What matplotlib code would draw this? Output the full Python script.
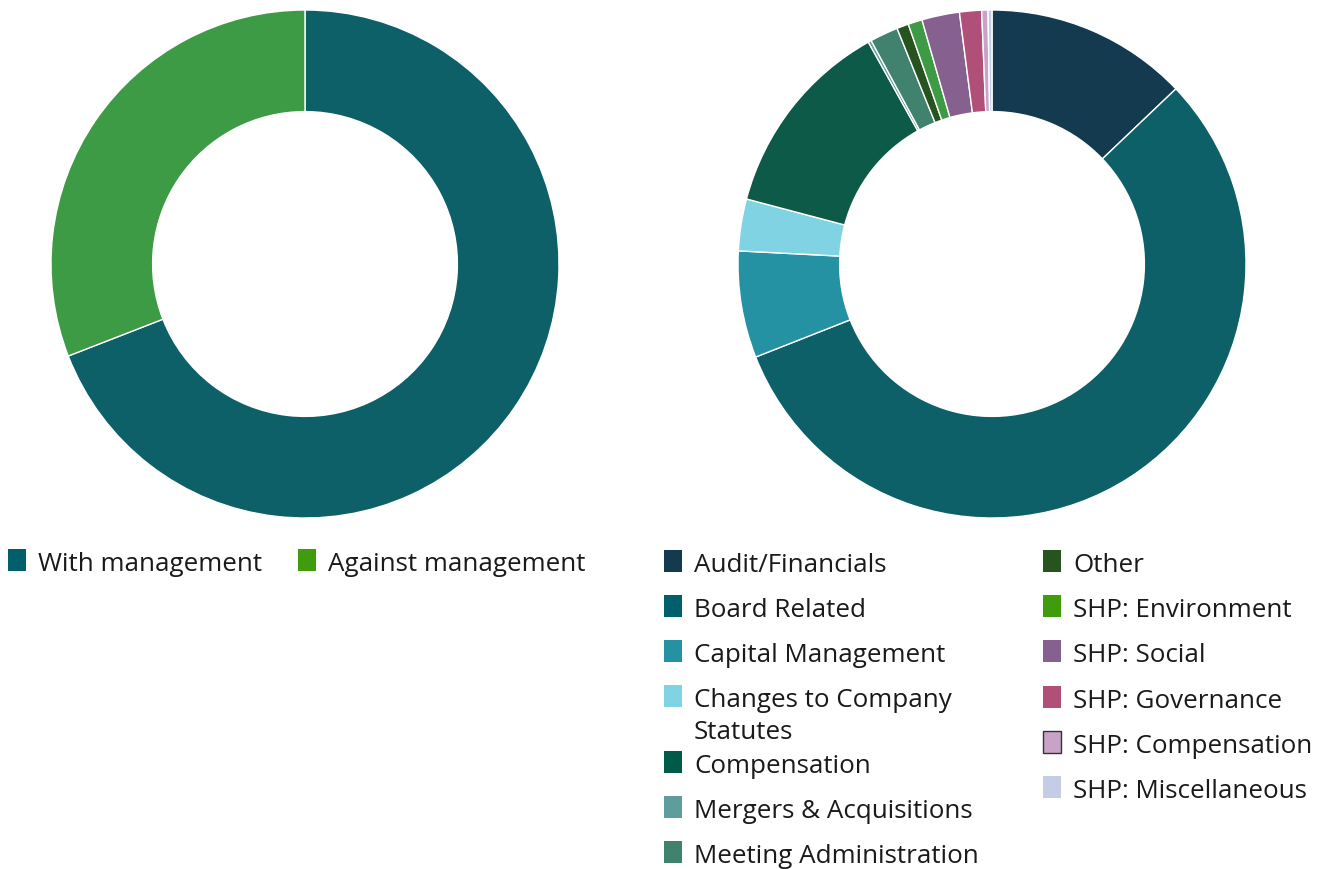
import matplotlib
matplotlib.use("Agg")
import matplotlib.pyplot as plt
from matplotlib.patches import Rectangle

plt.rcParams['font.family'] = ['Open Sans', 'DejaVu Sans']

# ---- data ----
mgmt_labels = ["With management", "Against management"]
mgmt_values = [69.1, 30.9]
mgmt_colors = ["#0e6068", "#3d9a45"]
mgmt_legend_colors = ["#005f6b", "#3f9c0c"]

cat_labels = ["Audit/Financials", "Board Related", "Capital Management",
              "Changes to Company\nStatutes", "Compensation",
              "Mergers & Acquisitions", "Meeting Administration", "Other",
              "SHP: Environment", "SHP: Social", "SHP: Governance",
              "SHP: Compensation", "SHP: Miscellaneous"]
cat_values = [12.9, 56.2, 6.8, 3.3, 12.8, 0.2, 1.8, 0.75, 0.9, 2.4, 1.4, 0.4, 0.25]
cat_colors = ["#143a4f", "#0e6068", "#2592a3", "#80d3e2", "#0e5a48",
              "#5f9c9c", "#40826e", "#27531f", "#3d9a45", "#86608f",
              "#b04f78", "#c9a2c8", "#c4cde5"]
cat_legend_colors = ["#143a4f", "#005f6b", "#2592a3", "#80d3e2", "#005a48",
                     "#5f9c9c", "#40826e", "#27531f", "#3f9c0c", "#86608f",
                     "#b04f78", "#c9a2c8", "#c4cde5"]

W, H = 1337, 870
fig = plt.figure(figsize=(W / 100, H / 100), dpi=100)

R = 254
def donut_axes(cx, cy):
    return fig.add_axes([(cx - R) / W, 1 - (cy + R) / H, 2 * R / W, 2 * R / H])

ax1 = donut_axes(305, 265)
ax1.pie(mgmt_values, colors=mgmt_colors, startangle=90, counterclock=False,
        radius=1, wedgeprops=dict(width=0.4, edgecolor="white", linewidth=1))
ax1.set_xlim(-1, 1); ax1.set_ylim(-1, 1); ax1.set_aspect("equal"); ax1.axis("off")

ax2 = donut_axes(992, 265)
ax2.pie(cat_values, colors=cat_colors, startangle=90, counterclock=False,
        radius=1, wedgeprops=dict(width=0.4, edgecolor="white", linewidth=1))
ax2.set_xlim(-1, 1); ax2.set_ylim(-1, 1); ax2.set_aspect("equal"); ax2.axis("off")

FS = 18.7
SQ_W, SQ_H = 18, 22
LINE = 32
def legend_item(x, yc, color, label, edge=None):
    fig.add_artist(Rectangle((x / W, 1 - (yc + SQ_H / 2) / H), SQ_W / W, SQ_H / H,
                             transform=fig.transFigure, facecolor=color,
                             edgecolor=edge if edge else color, linewidth=1 if edge else 0))
    for k, line in enumerate(label.split("\n")):
        fig.text((x + 30) / W, 1 - (yc + 10 + k * LINE) / H, line, fontsize=FS,
                 color="#1a1a1a", ha="left", va="baseline")

# left legend
lx = [8, 298]
for i, lab in enumerate(mgmt_labels):
    legend_item(lx[i], 561, mgmt_legend_colors[i], lab)

# right legend
col_x = [664, 1043]
y = 562
for i in range(7):
    legend_item(col_x[0], y, cat_legend_colors[i], cat_labels[i])
    y += 45 + (21 if "\n" in cat_labels[i] else 0)
y = 562
for i in range(7, 13):
    edge = "#333333" if cat_labels[i] == "SHP: Compensation" else None
    legend_item(col_x[1], y, cat_legend_colors[i], cat_labels[i], edge)
    y += 45.2

fig.savefig("out.png", dpi=100)
